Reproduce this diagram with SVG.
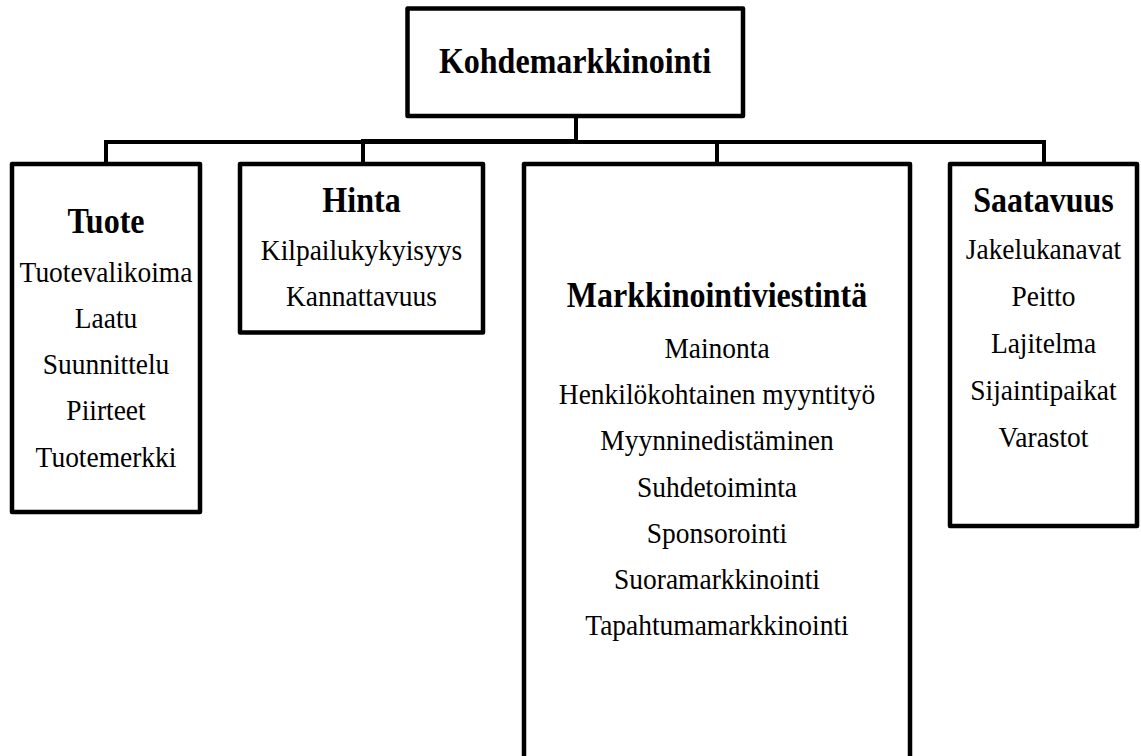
<svg xmlns="http://www.w3.org/2000/svg" width="1141" height="756" viewBox="0 0 1141 756">
<style>
rect.box{fill:#fff;stroke:#000;stroke-width:4.5;stroke-linejoin:round}
.conn path{fill:none;stroke:#000;stroke-width:4}
text{font-family:"Liberation Serif","Times New Roman",serif;text-anchor:middle;fill:#000}
.b{font-weight:bold;font-size:35px}
.r{font-size:30px}
</style>
<rect width="1141" height="756" fill="#fff"/>
<g class="conn" id="connectors">
<path d="M576,116 V142 H106 V163"/>
<path d="M576,116 V141 H363 V163"/>
<path d="M576,142 H717 V163"/>
<path d="M576,142 H1044 V163"/>
</g>
<g id="kohdemarkkinointi">
<rect class="box" x="407.5" y="8.5" width="335.5" height="107.5"/>
<text class="b" transform="translate(575 0) scale(0.915 1)" y="73">Kohdemarkkinointi</text>
</g>
<g id="tuote">
<rect class="box" x="12" y="164" width="188" height="348"/>
<g transform="translate(106 0) scale(0.915 1)">
<text class="b" y="233">Tuote</text>
<text class="r" y="282">Tuotevalikoima</text>
<text class="r" y="328">Laatu</text>
<text class="r" y="374">Suunnittelu</text>
<text class="r" y="420">Piirteet</text>
<text class="r" y="467">Tuotemerkki</text>
</g>
</g>
<g id="hinta">
<rect class="box" x="240" y="164" width="243" height="168.5"/>
<g transform="translate(361.5 0) scale(0.915 1)">
<text class="b" y="212">Hinta</text>
<text class="r" y="260">Kilpailukykyisyys</text>
<text class="r" y="306">Kannattavuus</text>
</g>
</g>
<g id="markkinointiviestinta">
<rect class="box" x="524" y="164" width="386" height="620"/>
<g transform="translate(717 0) scale(0.915 1)">
<text class="b" y="307">Markkinointiviestintä</text>
<text class="r" y="358">Mainonta</text>
<text class="r" y="404">Henkilökohtainen myyntityö</text>
<text class="r" y="450">Myynninedistäminen</text>
<text class="r" y="497">Suhdetoiminta</text>
<text class="r" y="543">Sponsorointi</text>
<text class="r" y="589">Suoramarkkinointi</text>
<text class="r" y="635">Tapahtumamarkkinointi</text>
</g>
</g>
<g id="saatavuus">
<rect class="box" x="950" y="164" width="187" height="362"/>
<g transform="translate(1043.5 0) scale(0.915 1)">
<text class="b" y="212">Saatavuus</text>
<text class="r" y="259">Jakelukanavat</text>
<text class="r" y="306">Peitto</text>
<text class="r" y="353">Lajitelma</text>
<text class="r" y="400">Sijaintipaikat</text>
<text class="r" y="447">Varastot</text>
</g>
</g>
</svg>
